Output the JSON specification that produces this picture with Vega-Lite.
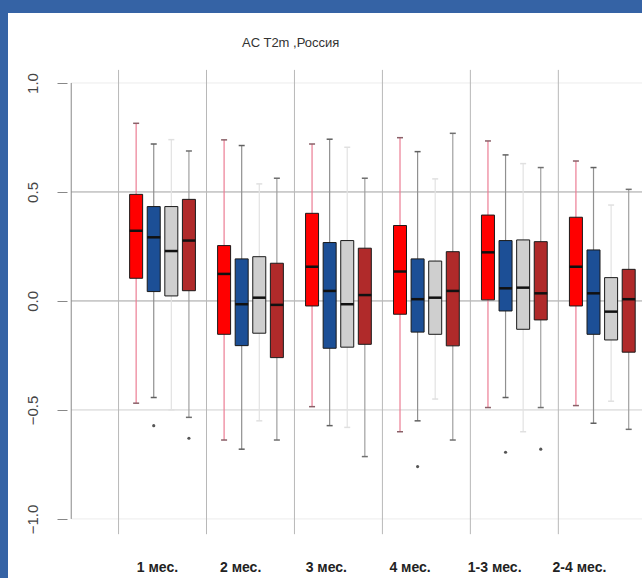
{
  "$schema": "https://vega.github.io/schema/vega-lite/v6.json",
  "width": 660,
  "height": 565,
  "autosize": "none",
  "padding": {"left": 8, "top": 13, "right": 0, "bottom": 0},
  "background": "#3563a5",
  "config": {"view": {"fill": "white", "stroke": null}, "font": "Liberation Sans"},
  "title": {"text": "AC  T2m ,Россия", "font": "Liberation Sans", "fontSize": 13, "fontWeight": "normal", "color": "#333333", "anchor": "start", "offset": -37, "dx": 234},
  "datasets": {
    "boxes": [
      {"g": "1 мес.", "s": "A", "p": 1, "lo": -0.469, "q1": 0.104, "med": 0.322, "q3": 0.489, "hi": 0.815},
      {"g": "1 мес.", "s": "B", "p": 2, "lo": -0.443, "q1": 0.043, "med": 0.292, "q3": 0.433, "hi": 0.72},
      {"g": "1 мес.", "s": "C", "p": 3, "lo": -0.5, "q1": 0.023, "med": 0.229, "q3": 0.433, "hi": 0.74},
      {"g": "1 мес.", "s": "D", "p": 4, "lo": -0.534, "q1": 0.047, "med": 0.277, "q3": 0.466, "hi": 0.688},
      {"g": "2 мес.", "s": "A", "p": 6, "lo": -0.638, "q1": -0.153, "med": 0.124, "q3": 0.254, "hi": 0.739},
      {"g": "2 мес.", "s": "B", "p": 7, "lo": -0.68, "q1": -0.205, "med": -0.015, "q3": 0.193, "hi": 0.713},
      {"g": "2 мес.", "s": "C", "p": 8, "lo": -0.55, "q1": -0.148, "med": 0.015, "q3": 0.203, "hi": 0.537},
      {"g": "2 мес.", "s": "D", "p": 9, "lo": -0.638, "q1": -0.26, "med": -0.018, "q3": 0.173, "hi": 0.563},
      {"g": "3 мес.", "s": "A", "p": 11, "lo": -0.485, "q1": -0.023, "med": 0.157, "q3": 0.402, "hi": 0.72},
      {"g": "3 мес.", "s": "B", "p": 12, "lo": -0.572, "q1": -0.217, "med": 0.046, "q3": 0.268, "hi": 0.742},
      {"g": "3 мес.", "s": "C", "p": 13, "lo": -0.58, "q1": -0.212, "med": -0.015, "q3": 0.277, "hi": 0.705},
      {"g": "3 мес.", "s": "D", "p": 14, "lo": -0.714, "q1": -0.199, "med": 0.027, "q3": 0.242, "hi": 0.563},
      {"g": "4 мес.", "s": "A", "p": 16, "lo": -0.6, "q1": -0.061, "med": 0.135, "q3": 0.346, "hi": 0.749},
      {"g": "4 мес.", "s": "B", "p": 17, "lo": -0.55, "q1": -0.143, "med": 0.008, "q3": 0.193, "hi": 0.685},
      {"g": "4 мес.", "s": "C", "p": 18, "lo": -0.45, "q1": -0.153, "med": 0.015, "q3": 0.183, "hi": 0.56},
      {"g": "4 мес.", "s": "D", "p": 19, "lo": -0.638, "q1": -0.206, "med": 0.046, "q3": 0.226, "hi": 0.769},
      {"g": "1-3 мес.", "s": "A", "p": 21, "lo": -0.489, "q1": 0.005, "med": 0.223, "q3": 0.394, "hi": 0.734},
      {"g": "1-3 мес.", "s": "B", "p": 22, "lo": -0.443, "q1": -0.046, "med": 0.058, "q3": 0.277, "hi": 0.67},
      {"g": "1-3 мес.", "s": "C", "p": 23, "lo": -0.6, "q1": -0.13, "med": 0.061, "q3": 0.28, "hi": 0.63},
      {"g": "1-3 мес.", "s": "D", "p": 24, "lo": -0.489, "q1": -0.087, "med": 0.035, "q3": 0.272, "hi": 0.612},
      {"g": "2-4 мес.", "s": "A", "p": 26, "lo": -0.48, "q1": -0.023, "med": 0.157, "q3": 0.384, "hi": 0.642},
      {"g": "2-4 мес.", "s": "B", "p": 27, "lo": -0.561, "q1": -0.153, "med": 0.035, "q3": 0.234, "hi": 0.612},
      {"g": "2-4 мес.", "s": "C", "p": 28, "lo": -0.46, "q1": -0.179, "med": -0.049, "q3": 0.107, "hi": 0.44},
      {"g": "2-4 мес.", "s": "D", "p": 29, "lo": -0.589, "q1": -0.235, "med": 0.008, "q3": 0.145, "hi": 0.512}
    ],
    "outliers": [
      {"p": 2, "v": -0.572},
      {"p": 4, "v": -0.63},
      {"p": 17, "v": -0.76},
      {"p": 22, "v": -0.694},
      {"p": 24, "v": -0.68}
    ],
    "labels": [
      {"label": "1 мес.", "p": 2.21},
      {"label": "2 мес.", "p": 6.94},
      {"label": "3 мес.", "p": 11.81},
      {"label": "4 мес.", "p": 16.57},
      {"label": "1-3 мес.", "p": 21.38},
      {"label": "2-4 мес.", "p": 26.2}
    ],
    "hlines": [
      {"v": 1.0, "k": "faint"},
      {"v": 0.5, "k": "major"},
      {"v": 0.0, "k": "major"},
      {"v": -0.5, "k": "minor"},
      {"v": -1.0, "k": "faint"}
    ],
    "seps": [
      {"p": 0}, {"p": 5}, {"p": 10}, {"p": 15}, {"p": 20}, {"p": 25}, {"p": 30}
    ],
    "axisline": [
      {"from": -1, "to": 1}
    ]
  },
  "resolve": {"scale": {"stroke": "independent", "fill": "independent"}},
  "layer": [
    {
      "data": {"name": "hlines"},
      "mark": {"type": "rule", "strokeWidth": 1},
      "encoding": {
        "y": {"field": "v", "type": "quantitative", "scale": {"domain": [-1.271, 1.321], "nice": false, "zero": false},
              "axis": {"orient": "left", "offset": -59, "values": [-1, -0.5, 0, 0.5, 1], "format": ".1f", "domain": false, "grid": false, "title": null,
                       "tickSize": 10, "tickColor": "#888888", "tickWidth": 1, "labelAngle": -90, "labelAlign": "center", "labelBaseline": "bottom",
                       "labelPadding": 17, "labelFont": "Liberation Sans", "labelFontSize": 15, "labelColor": "#444444"}},
        "x": {"datum": -2.69, "type": "quantitative", "scale": {"domain": [-6.0, 30.95], "nice": false, "zero": false}, "axis": null},
        "x2": {"datum": 30.95},
        "stroke": {"field": "k", "type": "nominal", "scale": {"domain": ["major", "minor", "faint"], "range": ["#a0a0a0", "#cfcfcf", "#ececec"]}, "legend": null}
      }
    },
    {
      "data": {"name": "seps"},
      "mark": {"type": "rule", "strokeWidth": 1, "color": "#b8b8b8"},
      "encoding": {
        "x": {"field": "p", "type": "quantitative", "scale": {"domain": [-6.0, 30.95], "nice": false, "zero": false}, "axis": null},
        "y": {"datum": -1.07, "type": "quantitative", "scale": {"domain": [-1.271, 1.321], "nice": false, "zero": false}},
        "y2": {"datum": 1.06}
      }
    },
    {
      "data": {"name": "axisline"},
      "mark": {"type": "rule", "strokeWidth": 1, "color": "#888888"},
      "encoding": {
        "x": {"datum": -2.69, "type": "quantitative", "scale": {"domain": [-6.0, 30.95], "nice": false, "zero": false}, "axis": null},
        "y": {"field": "from", "type": "quantitative", "scale": {"domain": [-1.271, 1.321], "nice": false, "zero": false}},
        "y2": {"field": "to"}
      }
    },
    {
      "data": {"name": "boxes"},
      "mark": {"type": "rule", "strokeWidth": 1.2},
      "encoding": {
        "x": {"field": "p", "type": "quantitative", "scale": {"domain": [-6.0, 30.95], "nice": false, "zero": false}, "axis": null},
        "y": {"field": "lo", "type": "quantitative", "scale": {"domain": [-1.271, 1.321], "nice": false, "zero": false}},
        "y2": {"field": "hi"},
        "stroke": {"field": "s", "type": "nominal", "scale": {"domain": ["A", "B", "C", "D"], "range": ["#ec7d94", "#909090", "#e2e2e2", "#a0a0a0"]}, "legend": null}
      }
    },
    {
      "data": {"name": "boxes"},
      "layer": [
        {
          "mark": {"type": "rule", "strokeWidth": 1.5, "xOffset": -3, "x2Offset": 3},
          "encoding": {
            "x": {"field": "p", "type": "quantitative", "scale": {"domain": [-6.0, 30.95], "nice": false, "zero": false}, "axis": null},
            "x2": {"field": "p"},
            "y": {"field": "hi", "type": "quantitative", "scale": {"domain": [-1.271, 1.321], "nice": false, "zero": false}},
            "stroke": {"field": "s", "type": "nominal", "scale": {"domain": ["A", "B", "C", "D"], "range": ["#8a6068", "#606060", "#e0e0e0", "#707070"]}, "legend": null}
          }
        },
        {
          "mark": {"type": "rule", "strokeWidth": 1.5, "xOffset": -3, "x2Offset": 3},
          "encoding": {
            "x": {"field": "p", "type": "quantitative", "scale": {"domain": [-6.0, 30.95], "nice": false, "zero": false}, "axis": null},
            "x2": {"field": "p"},
            "y": {"field": "lo", "type": "quantitative", "scale": {"domain": [-1.271, 1.321], "nice": false, "zero": false}},
            "stroke": {"field": "s", "type": "nominal", "scale": {"domain": ["A", "B", "C", "D"], "range": ["#8a6068", "#606060", "#e0e0e0", "#707070"]}, "legend": null}
          }
        }
      ]
    },
    {
      "data": {"name": "boxes"},
      "mark": {"type": "bar", "size": 13, "stroke": "#1a1a1a", "strokeWidth": 1},
      "encoding": {
        "x": {"field": "p", "type": "quantitative", "scale": {"domain": [-6.0, 30.95], "nice": false, "zero": false}, "axis": null},
        "y": {"field": "q1", "type": "quantitative", "scale": {"domain": [-1.271, 1.321], "nice": false, "zero": false}},
        "y2": {"field": "q3"},
        "fill": {"field": "s", "type": "nominal", "scale": {"domain": ["A", "B", "C", "D"], "range": ["#ff0000", "#1c4f96", "#cfcfcf", "#b02a2a"]}, "legend": null},
        "fillOpacity": {"value": 1}
      }
    },
    {
      "data": {"name": "boxes"},
      "mark": {"type": "rule", "strokeWidth": 2.5, "color": "#111111", "xOffset": -6.5, "x2Offset": 6.5},
      "encoding": {
        "x": {"field": "p", "type": "quantitative", "scale": {"domain": [-6.0, 30.95], "nice": false, "zero": false}, "axis": null},
        "x2": {"field": "p"},
        "y": {"field": "med", "type": "quantitative", "scale": {"domain": [-1.271, 1.321], "nice": false, "zero": false}}
      }
    },
    {
      "data": {"name": "outliers"},
      "mark": {"type": "point", "shape": "circle", "filled": true, "size": 10, "color": "#555555", "opacity": 1},
      "encoding": {
        "x": {"field": "p", "type": "quantitative", "scale": {"domain": [-6.0, 30.95], "nice": false, "zero": false}, "axis": null},
        "y": {"field": "v", "type": "quantitative", "scale": {"domain": [-1.271, 1.321], "nice": false, "zero": false}}
      }
    },
    {
      "data": {"name": "labels"},
      "mark": {"type": "text", "font": "Liberation Sans", "fontSize": 14, "fontWeight": "bold", "color": "#222222", "align": "center", "baseline": "middle"},
      "encoding": {
        "x": {"field": "p", "type": "quantitative", "scale": {"domain": [-6.0, 30.95], "nice": false, "zero": false}, "axis": null},
        "y": {"datum": -1.225, "type": "quantitative", "scale": {"domain": [-1.271, 1.321], "nice": false, "zero": false}},
        "text": {"field": "label", "type": "nominal"}
      }
    }
  ]
}
